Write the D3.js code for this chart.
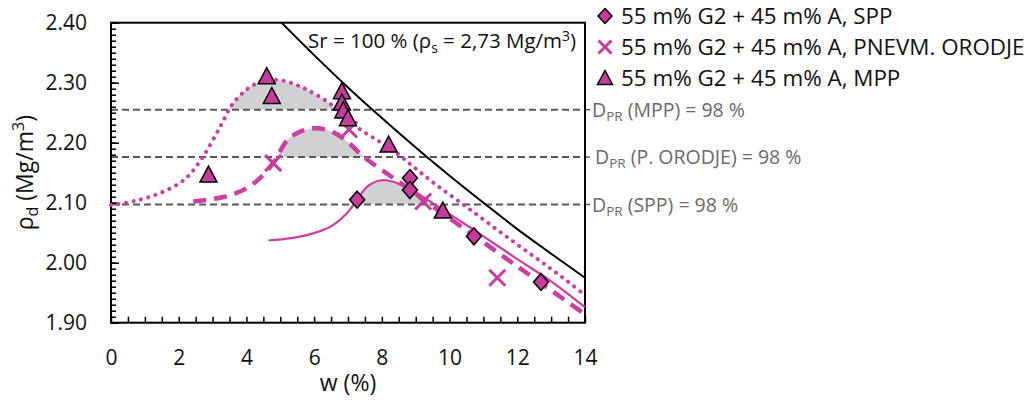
<!DOCTYPE html>
<html>
<head>
<meta charset="utf-8">
<style>
    body { margin: 0; background: #fff; }
    svg { display: block; }
    text { font-family: "Open Sans", sans-serif; fill: #111; }
    .axis .domain { display: none; }
    .axis .tick line { stroke: #000; stroke-width: 1.5; }
    .axis .tick text { font-size: 21px; fill: #111; }
    .title { font-size: 23px; }
    .legend text { font-size: 22.4px; }
    .dpr-label { font-size: 19.5px; fill: #6a6a6a; }
    .sr-label { font-size: 20.5px; }
</style>
</head>
<body>
<svg width="1035" height="400"></svg>

<script src="https://d3js.org/d3.v7.min.js"></script>
<script>
    // axis ticks
    let wTicks = [0, 2, 4, 6, 8, 10, 12, 14]
    let rhoTicks = [1.90, 2.00, 2.10, 2.20, 2.30, 2.40]

    // measured points
    let sppW = [7.27, 8.83, 8.83, 10.72, 12.70]
    let sppRho = [2.105, 2.141, 2.121, 2.044, 1.968]
    let pnevW = [4.79, 7.03, 9.22, 11.41]
    let pnevRho = [2.166, 2.222, 2.102, 1.975]
    let mppW = [2.88, 4.60, 4.75, 6.82, 6.82, 6.86, 7.00, 8.20, 9.80]
    let mppRho = [2.146, 2.310, 2.277, 2.285, 2.266, 2.253, 2.240, 2.196, 2.086]

    // fitted curves
    let sppFitW = [4.65, 5.2, 5.78, 6.2, 6.57, 6.96, 7.26, 7.55, 7.94, 8.34, 8.63, 8.9, 10.0, 11.0, 12.0, 13.0, 14.0]
    let sppFitRho = [2.037, 2.040, 2.046, 2.053, 2.063, 2.082, 2.104, 2.126, 2.137, 2.135, 2.128, 2.121, 2.081, 2.044, 2.006, 1.969, 1.926]
    let pnevFitW = [2.43, 3.0, 3.5, 4.0, 4.4, 4.79, 5.19, 5.5, 5.98, 6.5, 7.0, 7.45, 8.14, 8.73, 9.5, 10.5, 11.5, 12.5, 14.0]
    let pnevFitRho = [2.102, 2.106, 2.112, 2.124, 2.141, 2.166, 2.203, 2.216, 2.224, 2.219, 2.201, 2.177, 2.149, 2.126, 2.094, 2.054, 2.014, 1.974, 1.914]
    let mppFitW = [0, 0.7, 1.45, 2.2, 2.72, 3.23, 3.61, 4.2, 4.79, 5.3, 5.8, 6.4, 6.9, 7.36, 7.9, 8.34, 8.93, 9.6, 10.5, 11.5, 12.5, 13.3, 14.0]
    let mppFitRho = [2.096, 2.103, 2.116, 2.140, 2.177, 2.227, 2.266, 2.296, 2.305, 2.300, 2.288, 2.268, 2.245, 2.222, 2.203, 2.187, 2.160, 2.130, 2.093, 2.051, 2.010, 1.977, 1.946]

    // Sr = 100 % line
    let srW = [5.04, 6, 7, 8, 9, 10, 11, 12, 13, 14]
    let srRho = [2.400, 2.346, 2.292, 2.241, 2.192, 2.145, 2.100, 2.056, 2.015, 1.975]

    // D_PR = 98 % levels
    let dprNames = ["MPP", "P. ORODJE", "SPP"]
    let dprRho = [2.255, 2.176, 2.097]

    let legendNames = ["55 m% G2 + 45 m% A, SPP", "55 m% G2 + 45 m% A, PNEVM. ORODJE", "55 m% G2 + 45 m% A, MPP"]

    let magenta = "#c63c9c"
    let lineCol = "#cc3fa0"

    let svg = d3.select("svg")
    let margin = { top: 22.7, right: 450, bottom: 77.3, left: 111 }
    let width = 1035
    let height = 400

    let x = d3.scaleLinear()
        .domain([0, 14])
        .range([margin.left, width - margin.right])

    let y = d3.scaleLinear()
        .domain([1.9, 2.4])
        .range([height - margin.bottom, margin.top])

    let zip = (ws, rs) => ws.map((w, i) => ({ w: w, rho: rs[i] }))

    svg.append("defs").selectAll("clipPath")
        .data(dprRho)
        .join("clipPath")
        .attr("id", (d, i) => "clip" + i)
        .append("rect")
        .attr("x", x(0))
        .attr("y", y(2.4))
        .attr("width", x(14) - x(0))
        .attr("height", d => y(d) - y(2.4))

    // gray areas above D_PR
    let fits = [zip(mppFitW, mppFitRho), zip(pnevFitW, pnevFitRho), zip(sppFitW, sppFitRho)]
    fits.forEach(function (fit, i) {
        let area = d3.area()
            .curve(d3.curveCatmullRom)
            .x(d => x(d.w))
            .y0(y(dprRho[i]))
            .y1(d => y(d.rho))
        svg.append("path")
            .datum(fit)
            .attr("clip-path", "url(#clip" + i + ")")
            .attr("fill", "#d0d1d3")
            .attr("d", area)
    })

    // D_PR lines
    svg.append("g").selectAll("line")
        .data(dprRho)
        .join("line")
        .attr("x1", x(0))
        .attr("x2", x(14))
        .attr("y1", d => y(d))
        .attr("y2", d => y(d))
        .attr("stroke", "#595959")
        .attr("stroke-width", 2)
        .attr("stroke-dasharray", "7,4")

    svg.append("g").selectAll("line")
        .data(dprRho)
        .join("line")
        .attr("x1", x(14))
        .attr("x2", x(14) + 5)
        .attr("y1", d => y(d))
        .attr("y2", d => y(d))
        .attr("stroke", "#595959")
        .attr("stroke-width", 1.5)

    let labels = svg.append("g").selectAll("text")
        .data(dprNames)
        .join("text")
        .attr("class", "dpr-label")
        .attr("x", (d, i) => x(14) + (i == 1 ? 10 : 7))
        .attr("y", (d, i) => y(dprRho[i]) + 7)
    labels.append("tspan").text("D")
    labels.append("tspan").attr("font-size", "13.5px").attr("dy", 4).text("PR")
    labels.append("tspan").attr("dy", -4).text(d => " (" + d + ") = 98 %")

    // axes
    let xAxis = svg.append("g")
        .attr("class", "axis")
        .attr("transform", `translate(0,${y(1.9)})`)
        .call(d3.axisBottom(x)
            .tickValues(d3.range(0, 14.01, 0.5))
            .tickSizeInner(-6)
            .tickSizeOuter(0)
            .tickPadding(27)
            .tickFormat(d => wTicks.includes(d) ? d : ""))
    xAxis.selectAll(".tick text").attr("dy", "0.71em").attr("y", 27)

    svg.append("g")
        .attr("class", "axis")
        .attr("transform", `translate(${x(0)},0)`)
        .call(d3.axisLeft(y)
            .tickValues(d3.range(190, 240.5, 1).map(d => d / 100))
            .tickSizeInner(-5)
            .tickSizeOuter(0)
            .tickFormat(""))

    svg.append("g")
        .attr("class", "axis")
        .attr("transform", `translate(${x(0)},0)`)
        .call(d3.axisLeft(y)
            .tickValues(rhoTicks)
            .tickSizeInner(-8)
            .tickSizeOuter(0)
            .tickPadding(24)
            .tickFormat(d3.format(".2f")))

    // frame
    svg.append("rect")
        .attr("x", x(0))
        .attr("y", y(2.4))
        .attr("width", x(14) - x(0))
        .attr("height", y(1.9) - y(2.4))
        .attr("fill", "none")
        .attr("stroke", "#000")
        .attr("stroke-width", 2)

    // Sr line
    svg.append("path")
        .datum(zip(srW, srRho))
        .attr("fill", "none")
        .attr("stroke", "#000")
        .attr("stroke-width", 2)
        .attr("d", d3.line().curve(d3.curveCatmullRom).x(d => x(d.w)).y(d => y(d.rho)))

    let sr = svg.append("text")
        .attr("class", "sr-label")
        .attr("x", 308)
        .attr("y", 48)
    sr.append("tspan").text("Sr = 100 % (ρ")
    sr.append("tspan").attr("font-size", "14px").attr("dy", 5).text("s")
    sr.append("tspan").attr("dy", -5).text(" = 2,73 Mg/m")
    sr.append("tspan").attr("font-size", "14px").attr("dy", -7).text("3")
    sr.append("tspan").attr("dy", 7).text(")")

    // fitted curves
    let line = d3.line().curve(d3.curveCatmullRom).x(d => x(d.w)).y(d => y(d.rho))

    svg.append("path")
        .datum(zip(sppFitW, sppFitRho))
        .attr("fill", "none")
        .attr("stroke", lineCol)
        .attr("stroke-width", 2.2)
        .attr("d", line)

    svg.append("path")
        .datum(zip(pnevFitW, pnevFitRho))
        .attr("fill", "none")
        .attr("stroke", lineCol)
        .attr("stroke-width", 4.5)
        .attr("stroke-dasharray", "13,8")
        .attr("d", line)

    svg.append("path")
        .datum(zip(mppFitW, mppFitRho))
        .attr("fill", "none")
        .attr("stroke", lineCol)
        .attr("stroke-width", 4)
        .attr("stroke-linecap", "round")
        .attr("stroke-dasharray", "0.1,7.5")
        .attr("d", line)

    // markers
    let diamond = "M0,-8.5L7.5,0L0,8.5L-7.5,0Z"
    let triangle = "M0,-9L8.5,7L-8.5,7Z"

    function drawCross(g, s) {
        g.append("path")
            .attr("d", `M${-s},${-s}L${s},${s}M${-s},${s}L${s},${-s}`)
            .attr("stroke", magenta)
            .attr("stroke-width", 3)
            .attr("fill", "none")
    }

    svg.append("g").selectAll("g")
        .data(zip(pnevW, pnevRho))
        .join("g")
        .attr("transform", d => `translate(${x(d.w)},${y(d.rho)})`)
        .each(function () { drawCross(d3.select(this), 8) })

    svg.append("g").selectAll("path")
        .data(zip(mppW, mppRho))
        .join("path")
        .attr("transform", d => `translate(${x(d.w)},${y(d.rho)})`)
        .attr("d", triangle)
        .attr("fill", magenta)
        .attr("stroke", "#000")
        .attr("stroke-width", 1.5)

    svg.append("g").selectAll("path")
        .data(zip(sppW, sppRho))
        .join("path")
        .attr("transform", d => `translate(${x(d.w)},${y(d.rho)})`)
        .attr("d", diamond)
        .attr("fill", magenta)
        .attr("stroke", "#000")
        .attr("stroke-width", 1.5)

    // axis titles
    svg.append("text")
        .attr("class", "title")
        .attr("x", (x(0) + x(14)) / 2)
        .attr("y", 391)
        .attr("text-anchor", "middle")
        .text("w (%)")

    let yt = svg.append("text")
        .attr("class", "title")
        .attr("transform", `translate(33,${(y(1.9) + y(2.4)) / 2}) rotate(-90)`)
        .attr("text-anchor", "middle")
    yt.append("tspan").text("ρ")
    yt.append("tspan").attr("font-size", "16px").attr("dy", 5).text("d")
    yt.append("tspan").attr("dy", -5).text(" (Mg/m")
    yt.append("tspan").attr("font-size", "16px").attr("dy", -9).text("3")
    yt.append("tspan").attr("dy", 9).text(")")

    // legend
    let legend = svg.append("g")
        .attr("class", "legend")
        .selectAll("g")
        .data(legendNames)
        .join("g")
        .attr("transform", (d, i) => `translate(605,${16 + i * 31})`)

    legend.each(function (d, i) {
        let g = d3.select(this)
        if (i == 0) {
            g.append("path").attr("d", "M0,-7.5L7,0L0,7.5L-7,0Z").attr("fill", magenta).attr("stroke", "#000").attr("stroke-width", 1.5)
        } else if (i == 1) {
            drawCross(g, 6.5)
        } else {
            g.append("path").attr("d", "M0,-7.5L7.5,6.5L-7.5,6.5Z").attr("fill", magenta).attr("stroke", "#000").attr("stroke-width", 1.5)
        }
    })

    legend.append("text")
        .attr("x", 16)
        .attr("y", 8)
        .text(d => d)
</script>
</body>
</html>
